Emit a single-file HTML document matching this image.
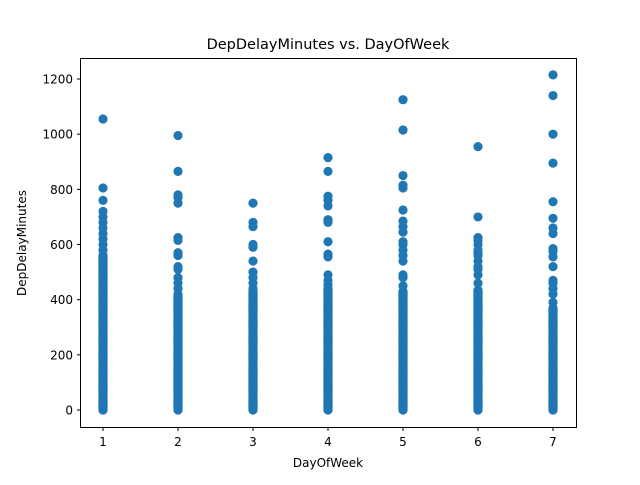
<!DOCTYPE html>
<html><head><meta charset="utf-8"><style>
body{margin:0;background:#fff;}
svg text{font-family:"DejaVu Sans","Liberation Sans",sans-serif;fill:#000;}
</style></head><body>
<svg width="640" height="480" id="chart">
<rect x="0" y="0" width="640" height="480" fill="#fff"/>
<text x="328" y="49" font-size="14.5" text-anchor="middle">DepDelayMinutes vs. DayOfWeek</text>
<text x="328" y="467" font-size="12" text-anchor="middle">DayOfWeek</text>
<text x="0" y="0" font-size="12" text-anchor="middle" transform="translate(26,243) rotate(-90)">DepDelayMinutes</text>
<g id="marks"></g>
<g id="axes"></g>
<rect x="80.5" y="58.5" width="496" height="369" fill="none" stroke="#000" stroke-width="1"/>
</svg>
<script>
const days = [1,2,3,4,5,6,7];
const denseMax = [560,415,430,440,430,435,370];
const outliers = [
 [1055,805,760,720,700,680,660,640,620,600,580],
 [995,865,780,770,750,625,615,570,560,520,510,480,460,440,420],
 [750,680,665,600,590,540,500,480,460,440],
 [915,865,775,760,740,690,680,610,565,555,490,470,455],
 [1125,1015,850,815,805,725,685,665,645,610,600,580,560,540,490,480,450],
 [955,700,625,615,600,580,570,560,540,520,510,490,460],
 [1215,1140,1000,895,755,695,660,640,585,575,555,520,470,460,440,420,390]
];
const xTicks = [1,2,3,4,5,6,7];
const yTicks = [0,200,400,600,800,1000,1200];
const NS="http://www.w3.org/2000/svg";
function xs(v){return 103+(v-1)*75;}
function ys(v){return 410-v*(331/1200);}
const marks=document.getElementById('marks');
function dot(x,y){
 const c=document.createElementNS(NS,'circle');
 c.setAttribute('cx',x);c.setAttribute('cy',y);c.setAttribute('r',4.6);
 c.setAttribute('fill','#1f77b4');
 
 
 marks.appendChild(c);
}
days.forEach((d,i)=>{
 for(let v=0;v<=denseMax[i];v+=2) dot(xs(d),ys(v));
 outliers[i].forEach(v=>dot(xs(d),ys(v)));
});
const axes=document.getElementById('axes');
xTicks.forEach(t=>{
 const l=document.createElementNS(NS,'line');
 l.setAttribute('x1',xs(t));l.setAttribute('x2',xs(t));l.setAttribute('y1',427.5);l.setAttribute('y2',431);l.setAttribute('stroke','#000');
 
 
 axes.appendChild(l);
 const tx=document.createElementNS(NS,'text');
 tx.setAttribute('x',xs(t));tx.setAttribute('y',446);tx.setAttribute('font-size','12');tx.setAttribute('text-anchor','middle');
 tx.textContent=t;
 
 
 axes.appendChild(tx);
});
yTicks.forEach(t=>{
 const l=document.createElementNS(NS,'line');
 l.setAttribute('x1',77);l.setAttribute('x2',80.5);l.setAttribute('y1',ys(t));l.setAttribute('y2',ys(t));l.setAttribute('stroke','#000');
 
 
 axes.appendChild(l);
 const tx=document.createElementNS(NS,'text');
 tx.setAttribute('x',73);tx.setAttribute('y',ys(t)+4.5);tx.setAttribute('font-size','12');tx.setAttribute('text-anchor','end');
 tx.textContent=t;
 
 
 axes.appendChild(tx);
});
</script>
</body></html>
